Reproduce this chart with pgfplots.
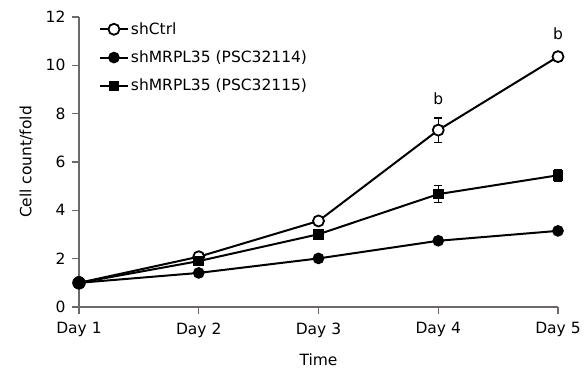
\documentclass[border=0pt]{standalone}
\usepackage{pgfplots}
\pgfplotsset{compat=1.18}
\usepackage{fontspec}
\setmainfont{DejaVu Sans}
\usetikzlibrary{calc}
\definecolor{axgray}{RGB}{110,105,105}
\begin{document}
\begin{tikzpicture}
\begin{axis}[
  name=ax,
  scale only axis,
  width=479pt, height=290pt,
  xmin=1, xmax=5, ymin=0, ymax=12,
  axis lines*=left,
  axis line style={axgray, line width=1.2pt, -},
  xtick={1,2,3,4,5},
  xticklabels={Day 1,Day 2,Day 3,Day 4,Day 5},
  ytick={0,2,4,6,8,10,12},
  tick style={axgray, line width=1.2pt},
  tick align=outside,
  major tick length=7pt,
  /pgf/number format/assume math mode=true,
  tick label style={font=\fontsize{15.5}{18}\selectfont, black},
  xticklabel style={yshift=-5pt},
  yticklabel style={xshift=-3pt},
  label style={font=\fontsize{15.5}{18}\selectfont},
  xlabel={Time},
  ylabel={Cell count/fold},
  xlabel style={yshift=-10pt},
  ylabel style={yshift=6pt},
  clip=false,
  legend cell align=left,
  legend style={draw=none, fill=none, at={(0.035,0.995)}, anchor=north west,
    font=\fontsize{15.5}{18}\selectfont, row sep=11pt},
  legend image code/.code={\draw[#1] (0pt,0pt) -- (28pt,0pt); \draw[#1, mark repeat=1] plot coordinates {(14pt,0pt)};},
]
\addplot[black, line width=2pt, mark=*, mark size=5.5pt, mark options={fill=white, line width=1.8pt},
  error bars/.cd, y dir=both, y explicit, error bar style={line width=1.2pt}, error mark options={rotate=90, mark size=4pt, line width=1.2pt}]
  coordinates {(1,1) +- (0,0) (2,2.08) +- (0,0.05) (3,3.56) +- (0,0.08) (4,7.32) +- (0,0.5) (5,10.36) +- (0,0.1)};
\addlegendentry{shCtrl}
\addplot[black, line width=2pt, mark=*, mark size=4.8pt, mark options={fill=black}]
  coordinates {(1,1) (2,1.41) (3,2.01) (4,2.74) (5,3.15)};
\addlegendentry{shMRPL35 (PSC32114)}
\addplot[black, line width=2pt, mark=square*, mark size=4.3pt, mark options={fill=black},
  error bars/.cd, y dir=both, y explicit, error bar style={line width=1.2pt}, error mark options={rotate=90, mark size=4pt, line width=1.2pt}]
  coordinates {(1,1) +- (0,0) (2,1.9) +- (0,0.05) (3,3.01) +- (0,0.08) (4,4.67) +- (0,0.35) (5,5.45) +- (0,0.25)};
\addlegendentry{shMRPL35 (PSC32115)}
\addplot[black, only marks, mark=*, mark size=6.5pt, forget plot] coordinates {(1,1)};
\node[font=\fontsize{15.5}{18}\selectfont] at (axis cs:4,8.6) {b};
\node[font=\fontsize{15.5}{18}\selectfont] at (axis cs:5,11.3) {b};
\end{axis}
\pgfresetboundingbox
\path ($(ax.south west)+(-79pt,-72pt)$) rectangle ($(ax.north east)+(28pt,17pt)$);
\end{tikzpicture}
\end{document}
